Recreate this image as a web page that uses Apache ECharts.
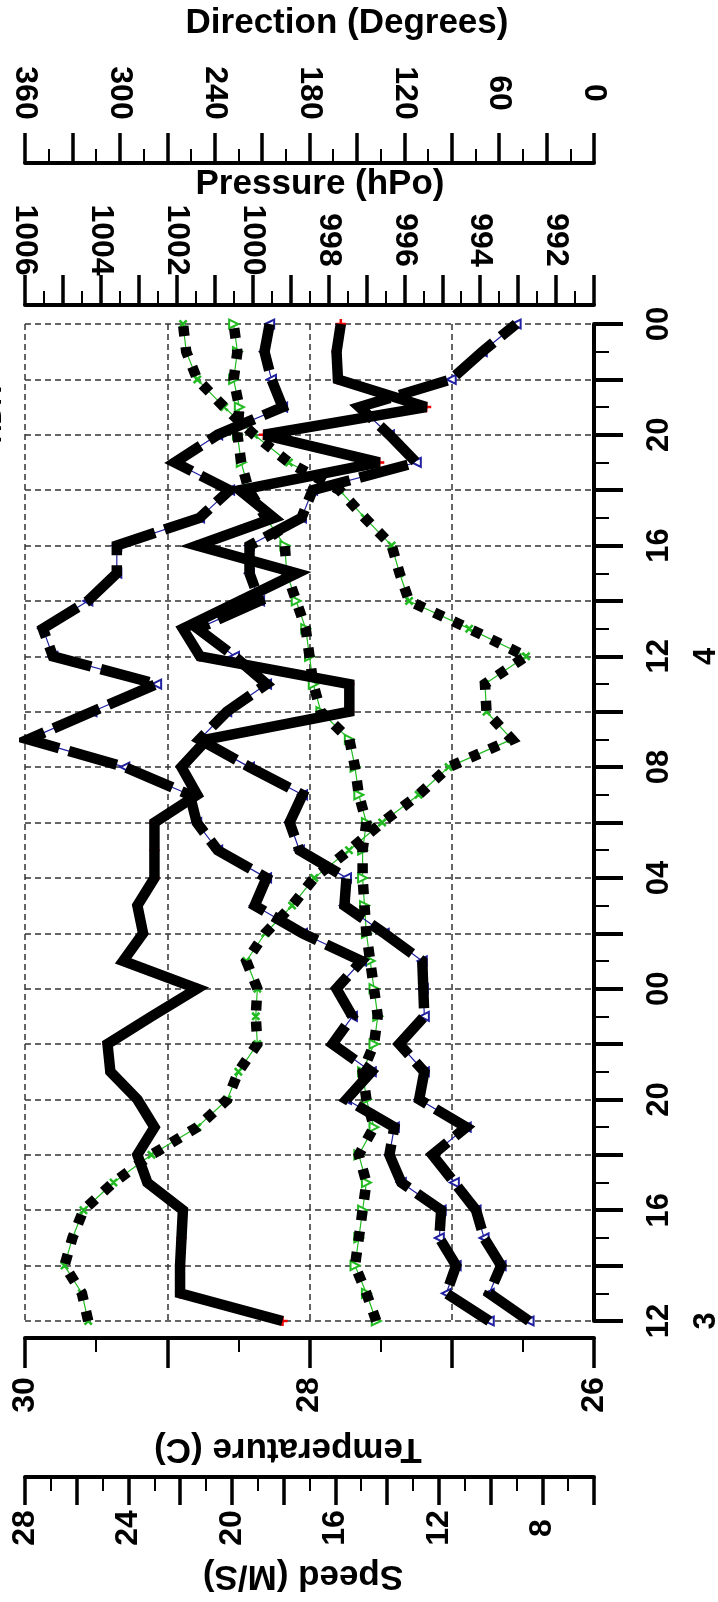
<!DOCTYPE html>
<html><head><meta charset="utf-8">
<script src="https://cdn.jsdelivr.net/npm/echarts@6/dist/echarts.min.js"></script>
<style>html,body{margin:0;padding:0;background:#fff}#c{width:718px;height:1602px}</style>
</head><body><div id="c"></div>
<script>
// Time categories (day hour), hourly from day 3 12h to day 5 00h
const timeCats = ['03 12','03 13','03 14','03 15','03 16','03 17','03 18','03 19','03 20','03 21','03 22','03 23',
  '04 00','04 01','04 02','04 03','04 04','04 05','04 06','04 07','04 08','04 09','04 10','04 11',
  '04 12','04 13','04 14','04 15','04 16','04 17','04 18','04 19','04 20','04 21','04 22','04 23','05 00'];
const dayLabels = {'03 12': '3', '04 12': '4'};

// Series values
const temperature = [28.19,28.91,28.91,28.90,28.89,29.14,29.21,29.09,29.21,29.40,29.42,29.11,28.79,29.31,29.17,29.21,29.09,29.09,29.09,28.79,28.90,28.72,27.72,27.72,28.77,28.89,28.49,28.09,28.79,28.25,28.49,27.51,28.32,27.18,27.80,27.81,27.78];
const speedA = [10.05,11.71,11.33,11.98,11.91,13.45,13.91,13.72,15.57,14.61,16.11,15.34,15.96,14.99,17.27,19.12,18.66,20.55,21.36,21.63,24.14,27.88,25.41,22.91,26.92,27.31,25.57,24.45,24.45,21.25,20.09,22.21,20.55,18.04,18.47,18.74,18.54];
const speedB = [8.51,10.05,9.59,10.25,10.56,11.40,12.25,10.94,12.76,12.56,13.53,12.56,12.60,12.64,14.11,15.65,15.57,17.39,17.77,17.27,19.32,21.25,20.20,18.66,19.90,21.32,18.93,19.32,19.32,17.31,16.88,12.87,13.91,15.07,11.52,10.32,9.01];
const pressure = [996.74,997.0,997.3,997.2,997.1,997.0,997.2,996.8,997.0,997.1,996.8,996.7,996.8,996.9,997.0,997.05,997.1,997.1,997.0,997.2,997.3,997.45,998.2,998.4,998.5,998.6,998.85,999.1,999.15,999.65,1000.1,1000.3,1000.4,1000.35,1000.5,1000.4,1000.5];
const direction = [320,324,335,330,323,304,280,251,232,225,213,214,213,220,208,191,177,155,134,111,92,52,68,69,43,79,117,123,128,145,161,193,215,234,251,258,260];

// Tick labels shown
const tempLabels = [26, 28, 30];
const speedLabels = [8, 12, 16, 20, 24, 28];
const pressureLabels = [992, 994, 996, 998, 1000, 1002, 1004, 1006];
const directionLabels = [0, 60, 120, 180, 240, 300, 360];

const FONT = 'Liberation Sans';
const chart = echarts.init(document.getElementById('c'), null, {renderer: 'canvas'});

function valueAxis(pos, offset, min, max, interval, labels, margin, majorLen) {
  return {
    type: 'value', position: pos, offset: offset, min: min, max: max, interval: interval, inverse: true,
    axisLine: {show: true, onZero: false, lineStyle: {color: '#000', width: 4}},
    axisTick: {show: true, length: majorLen, lineStyle: {color: '#000', width: 3.5}},
    minorTick: {show: true, splitNumber: 2, length: 14, lineStyle: {color: '#000', width: 2}},
    splitLine: {show: false},
    axisLabel: {
      show: true, rotate: 90, margin: margin, align: 'center', verticalAlign: 'middle',
      color: '#000', fontFamily: FONT, fontWeight: 'bold', fontSize: 32,
      formatter: v => labels.indexOf(Math.round(v * 100) / 100) >= 0 ? String(v) : ''
    }
  };
}

const xAxes = [
  valueAxis('bottom', 17, 26, 30, 1, tempLabels, 57, 30),
  valueAxis('bottom', 156, 6, 28, 2, speedLabels, 51, 28),
  valueAxis('top', 19, 991, 1006, 1, pressureLabels, 65, 30),
  valueAxis('top', 161, 0, 360, 30, directionLabels, 70, 30)
];
xAxes[0].splitLine = {show: true, lineStyle: {color: '#333', width: 1.5, type: [6, 4]}};

const yAxes = [
  {
    type: 'category', data: timeCats, boundaryGap: false, position: 'right', offset: 0,
    axisLine: {show: true, lineStyle: {color: '#000', width: 4}},
    axisTick: {show: true, interval: 1, length: 29, lineStyle: {color: '#000', width: 4}},
    splitLine: {show: true, interval: 1, lineStyle: {color: '#333', width: 1.5, type: [6, 4]}},
    axisLabel: {
      show: true, interval: 3, rotate: 90, margin: 65, align: 'center', verticalAlign: 'middle',
      color: '#000', fontFamily: FONT, fontWeight: 'bold', fontSize: 31,
      formatter: v => v.slice(3)
    }
  },
  {
    type: 'category', data: timeCats, boundaryGap: false, position: 'right', offset: 0,
    axisLine: {show: false},
    axisTick: {show: true, interval: 0, length: 15, lineStyle: {color: '#000', width: 2}},
    splitLine: {show: false},
    axisLabel: {
      show: true, interval: 0, rotate: 90, margin: 112, align: 'center', verticalAlign: 'middle',
      color: '#000', fontFamily: FONT, fontWeight: 'bold', fontSize: 31,
      formatter: v => dayLabels[v] || ''
    }
  }
];

const plus = 'path://M3.4,0h1.2v8h-1.2zM0,3.4h8v1.2h-8z';
function thin(data, xi, color, symbol, rot) {
  return {
    type: 'line', data: data, xAxisIndex: xi, yAxisIndex: 0, z: 2,
    lineStyle: {width: 1.2, color: color},
    itemStyle: {color: color, borderColor: color, borderWidth: 1.2},
    symbol: symbol, symbolSize: 9, symbolRotate: rot, showSymbol: true, silent: true
  };
}
function thick(data, xi, dash) {
  return {
    type: 'line', data: data, xAxisIndex: xi, yAxisIndex: 0, z: 3,
    symbol: 'none', showSymbol: false, silent: true,
    lineStyle: {width: 10.5, color: '#000', type: dash, cap: 'butt', join: 'miter', miterLimit: 4}
  };
}

const titleFont = 'bold 35px "' + FONT + '"';
const graphics = [
  {type: 'text', x: 347, y: 23, style: {text: 'Direction (Degrees)', font: titleFont, fill: '#000', align: 'center', verticalAlign: 'middle'}},
  {type: 'text', x: 320, y: 184, style: {text: 'Pressure (hPo)', font: titleFont, fill: '#000', align: 'center', verticalAlign: 'middle'}},
  {type: 'text', x: 288, y: 1449, rotation: Math.PI, style: {text: 'Temperature (C)', font: titleFont, fill: '#000', align: 'center', verticalAlign: 'middle'}},
  {type: 'text', x: 303, y: 1576, rotation: Math.PI, style: {text: 'Speed (M/S)', font: titleFont, fill: '#000', align: 'center', verticalAlign: 'middle'}},
  {type: 'text', x: -6, y: 415, rotation: Math.PI / 2, style: {text: 'HDR', font: 'bold 26px "' + FONT + '"', fill: '#000', align: 'center', verticalAlign: 'middle'}}
];

chart.setOption({
  animation: false,
  backgroundColor: '#fff',
  grid: {left: 25, right: 124, top: 324, bottom: 281, containLabel: false, outerBoundsMode: 'none'},
  xAxis: xAxes,
  yAxis: yAxes,
  graphic: graphics,
  series: [
    thin(direction, 3, '#22bb22', plus, 45),
    thin(pressure, 2, '#22bb22', 'emptyTriangle', -90),
    thin(speedA, 1, '#2020a0', 'emptyTriangle', 90),
    thin(speedB, 1, '#2020a0', 'emptyTriangle', 90),
    thin(temperature, 0, '#ee0000', plus, 0),
    thick(direction, 3, [10, 11]),
    thick(pressure, 2, [10, 11]),
    thick(speedA, 1, [50, 10]),
    thick(speedB, 1, [50, 10]),
    thick(temperature, 0, 'solid')
  ]
});
</script></body></html>
